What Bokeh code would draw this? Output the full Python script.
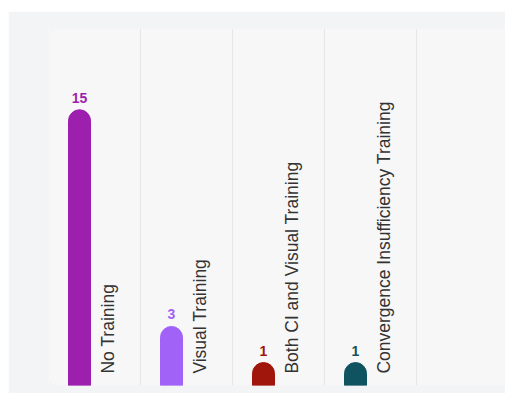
import numpy as np
from bokeh.plotting import figure
from bokeh.models import ColumnDataSource, Range1d, FixedTicker, BoxAnnotation, Spacer
from bokeh.layouts import column, row
from bokeh.core.properties import value
from bokeh.embed import file_html
from bokeh.resources import INLINE

categories = ["No Training", "Visual Training", "Both CI and Visual Training",
              "Convergence Insufficiency Training"]
counts = [15, 3, 1, 1]
colors = ["#9c1fad", "#a062f7", "#a0150c", "#0f5360"]

Y0, Y1 = -0.27, 19.5

idx = np.arange(len(categories))
src = ColumnDataSource(dict(
    bx=idx + 0.337,
    lx=idx + 0.647,
    cnt=counts,
    base=[Y0] * len(counts),
    zero=[0] * len(counts),
    lbl=[str(c) for c in counts],
    cat=categories,
    col=colors,
))

W, H = 497, 382
p = figure(width=W, height=H, output_backend="svg", toolbar_location=None,
           x_range=Range1d(0, 457 / 92), y_range=Range1d(Y0, Y1),
           min_border_left=40, min_border_right=0, min_border_top=17, min_border_bottom=8)
p.background_fill_color = "#f3f4f6"
p.border_fill_color = "#f3f4f6"
p.outline_line_color = None
p.xaxis.visible = False
p.yaxis.visible = False
p.ygrid.visible = False
p.xgrid.ticker = FixedTicker(ticks=[1, 2, 3, 4, 5])
p.xgrid.grid_line_color = "#e6e6e6"
p.xgrid.grid_line_width = 1

panel = BoxAnnotation(right=10, fill_color="#f7f7f7", fill_alpha=1,
                      line_color="#ebebeb", line_width=1, border_radius=8, level="image")
p.add_layout(panel)

p.vbar(x="bx", top="cnt", bottom="base", width=22 / 92, color="col", source=src,
       border_radius=(11, 11, 0, 0))

p.text(x="bx", y="cnt", text="lbl", y_offset=-12, text_align="center",
       text_baseline="alphabetic", text_color="col", text_font=value("Liberation Sans"),
       text_font_size="14px", text_font_style="bold", source=src)

p.text(x="lx", y="zero", text="cat", angle=np.pi / 2, y_offset=-7, text_align="left",
       text_baseline="middle", text_color="#333333", text_font=value("Liberation Sans"),
       text_font_size="17.5px", source=src)

layout = row(Spacer(width=8, height=H + 11),
             column(Spacer(width=W, height=11), p))
open("out.html", "w").write(file_html(layout, INLINE))
